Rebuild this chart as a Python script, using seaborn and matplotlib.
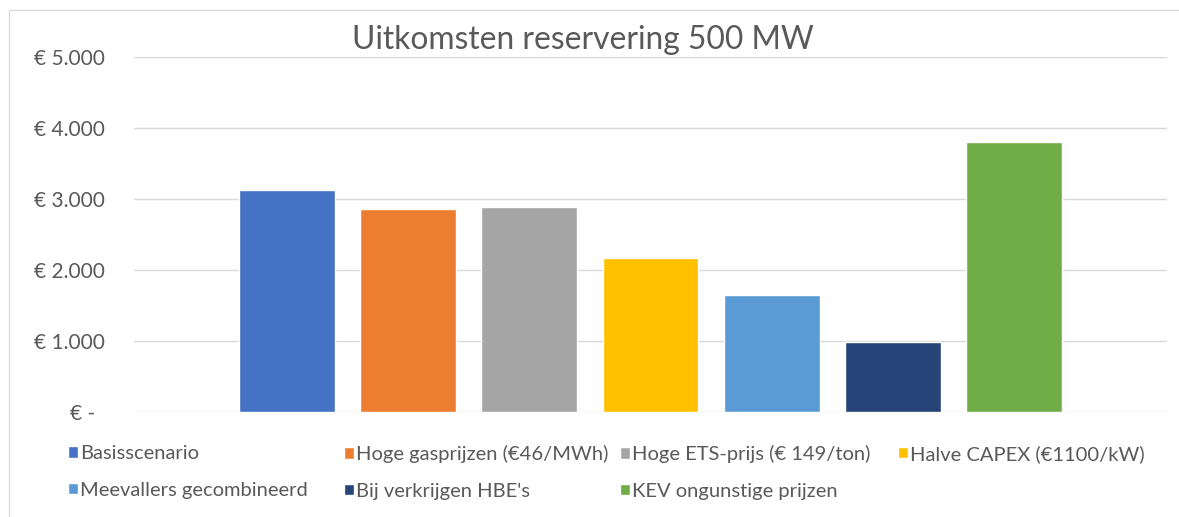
import pandas as pd
import numpy as np
import matplotlib.pyplot as plt
import seaborn as sns
from matplotlib.patches import Rectangle
from matplotlib.transforms import ScaledTranslation

# scenario results (EUR)
scenarios = [
    "Basisscenario",
    "Hoge gasprijzen (€46/MWh)",
    "Hoge ETS-prijs (€ 149/ton)",
    "Halve CAPEX (€1100/kW)",
    "Meevallers gecombineerd",
    "Bij verkrijgen HBE's",
    "KEV ongunstige prijzen",
]
values = [3125, 2860, 2890, 2170, 1650, 985, 3805]
colors = ["#4472C4", "#ED7D31", "#A5A5A5", "#FFC000", "#5B9BD5", "#264478", "#70AD47"]
yticks = [0, 1000, 2000, 3000, 4000, 5000]
ytick_labels = ["€ -", "€ 1.000", "€ 2.000", "€ 3.000", "€ 4.000", "€ 5.000"]

df = pd.DataFrame({"Scenario": scenarios, "Waarde": values})

sns.set_style("white")
plt.rcParams["font.family"] = ["Lato", "DejaVu Sans"]
txt_color = "#595959"

fig = plt.figure(figsize=(11.79, 5.17), dpi=100)
ax = fig.add_axes([134 / 1179, 1 - 412 / 517, (1167 - 134) / 1179, (412 - 57) / 517])

sns.barplot(data=df, x="Scenario", y="Waarde", hue="Scenario", order=scenarios,
            hue_order=scenarios, palette=colors, width=0.79, saturation=1,
            legend=True, ax=ax)

ax.set_ylim(0, 5000)
ax.set_xlim(-1.262, len(scenarios) - 1 + 1.262)
ax.set_yticks(yticks)
ax.set_yticklabels(ytick_labels, fontsize=15, color=txt_color)
ax.set_xticks([])
ax.set_xlabel("")
ax.set_ylabel("")
ax.tick_params(axis="y", length=0, pad=21)
ax.grid(axis="y", color="#d9d9d9", linewidth=1.0)
ax.set_axisbelow(True)
for s in ax.spines.values():
    s.set_visible(False)

# zero label sits a bit more to the left
zero_lbl = ax.get_yticklabels()[0]
zero_lbl.set_transform(zero_lbl.get_transform() + ScaledTranslation(-10 / 100, 0, fig.dpi_scale_trans))

fig.text(0.494, 1 - 49 / 517, "Uitkomsten reservering 500 MW", ha="center", va="baseline",
         fontsize=22.9, color=txt_color)

# legend: 4 equal-width columns, 2 rows
handles, labels = ax.get_legend_handles_labels()
ax.get_legend().remove()
col_x = [68, 344, 620, 898]
for j, x0 in enumerate(col_x):
    idx = [i for i in (j, j + 4) if i < len(handles)]
    leg = fig.legend([handles[i] for i in idx], [labels[i] for i in idx],
                     loc="upper left", bbox_to_anchor=(x0 / 1179, 1 - 445 / 517),
                     frameon=False, fontsize=14.5, handlelength=0.5, handleheight=0.5,
                     handletextpad=0.1, borderpad=0, borderaxespad=0, labelspacing=0.98,
                     labelcolor=txt_color)

# chart area border
fig.add_artist(Rectangle((9 / 1179, -0.1), 1.2, 1.1 - 10 / 517, transform=fig.transFigure,
                         fill=False, edgecolor="#d9d9d9", linewidth=1.0))

plt.savefig("out.png", dpi=100)
